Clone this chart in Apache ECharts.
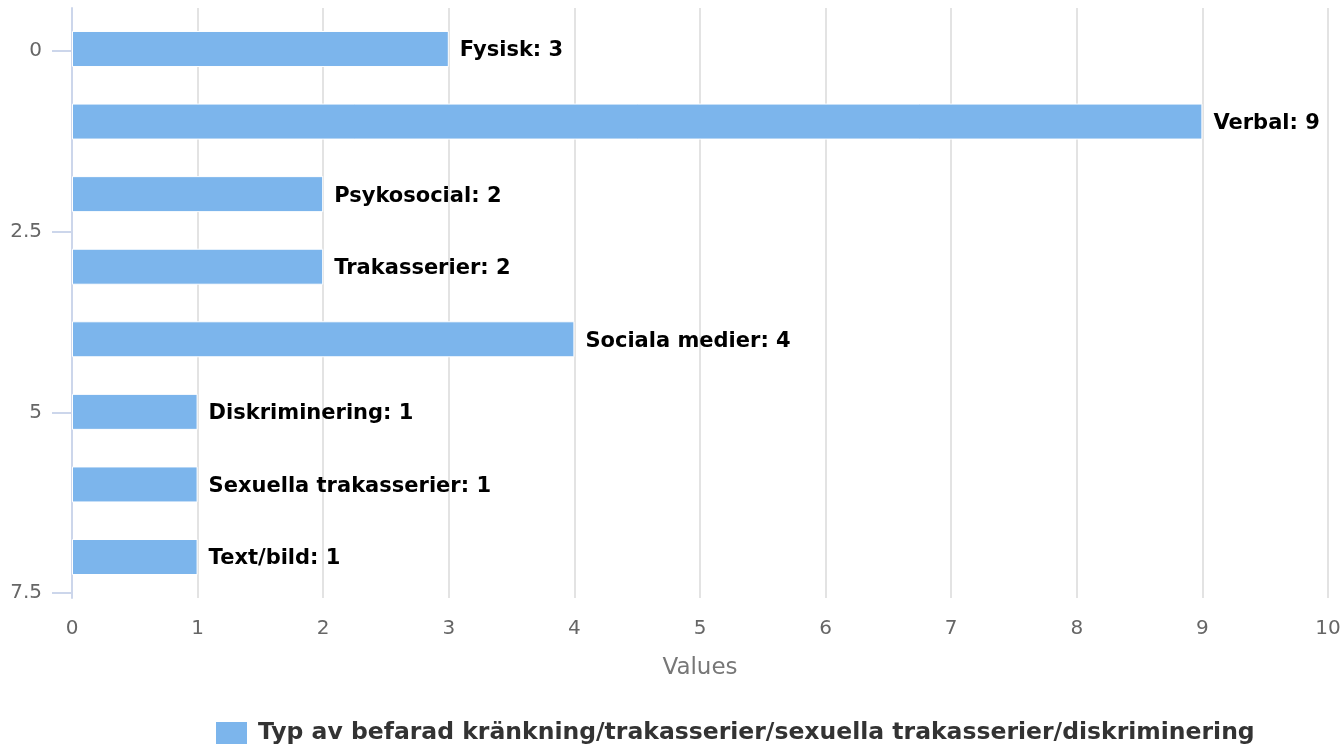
<!DOCTYPE html>
<html>
<head>
<meta charset="utf-8">
<script src="https://cdn.jsdelivr.net/npm/echarts@6/dist/echarts.min.js"></script>
<style>html,body{margin:0;padding:0;background:#fff}#c{width:1344px;height:749px}</style>
</head>
<body>
<div id="c"></div>
<script>
const categories = ['Fysisk', 'Verbal', 'Psykosocial', 'Trakasserier', 'Sociala medier', 'Diskriminering', 'Sexuella trakasserier', 'Text/bild'];
const values = [3, 9, 2, 2, 4, 1, 1, 1];
const seriesName = 'Typ av befarad kränkning/trakasserier/sexuella trakasserier/diskriminering';
const yTicks = [0, 2.5, 5, 7.5];
const xTicks = [0, 1, 2, 3, 4, 5, 6, 7, 8, 9, 10];

const font = 'DejaVu Sans, sans-serif';
const chart = echarts.init(document.getElementById('c'), null, {renderer: 'canvas'});
chart.setOption({
  animation: false,
  textStyle: {fontFamily: font},
  grid: [
    {left: 72, right: 16, top: 12.7, bottom: 155.7},
    {left: 72, right: 16, top: 8, bottom: 151}
  ],
  xAxis: [
    {gridIndex: 0, type: 'value', min: 0, max: 10, show: false},
    {gridIndex: 1, type: 'value', min: 0, max: 10, interval: 1,
      axisLine: {show: false}, axisTick: {show: false},
      splitLine: {show: true, lineStyle: {color: '#e3e3e3', width: 2}},
      axisLabel: {color: '#666', fontSize: 20, margin: 21, fontFamily: font,
        customValues: xTicks},
      name: 'Values', nameLocation: 'middle', nameGap: 59,
      nameTextStyle: {color: '#777', fontSize: 23, fontFamily: font}
    }
  ],
  yAxis: [
    {gridIndex: 0, type: 'category', data: categories, inverse: true, show: false},
    {gridIndex: 1, type: 'value', inverse: true, min: -0.595, max: 7.569,
      axisLine: {show: true, lineStyle: {color: '#ccd6eb', width: 2}},
      axisTick: {show: true, length: 20, customValues: yTicks, lineStyle: {color: '#ccd6eb', width: 2}},
      axisLabel: {color: '#666', fontSize: 20, margin: 30, fontFamily: font, customValues: yTicks},
      splitLine: {show: false}
    }
  ],
  legend: {
    left: 209, top: 715,
    itemWidth: 33, itemHeight: 24, itemGap: 20,
    icon: 'rect',
    textStyle: {color: '#333', fontSize: 23.5, fontWeight: 'bold', fontFamily: font, padding: [0, 0, 0, 5]},
    data: [seriesName]
  },
  series: [{
    name: seriesName,
    type: 'bar',
    xAxisIndex: 0, yAxisIndex: 0,
    data: values,
    barWidth: 36,
    itemStyle: {color: '#7cb5ec', borderColor: '#fff', borderWidth: 1},
    label: {
      show: true, position: 'right', distance: 11, offset: [0, 2],
      color: '#000', fontSize: 21, fontWeight: 'bold', fontFamily: font,
      formatter: p => categories[p.dataIndex] + ': ' + p.value
    }
  }]
});
</script>
</body>
</html>
